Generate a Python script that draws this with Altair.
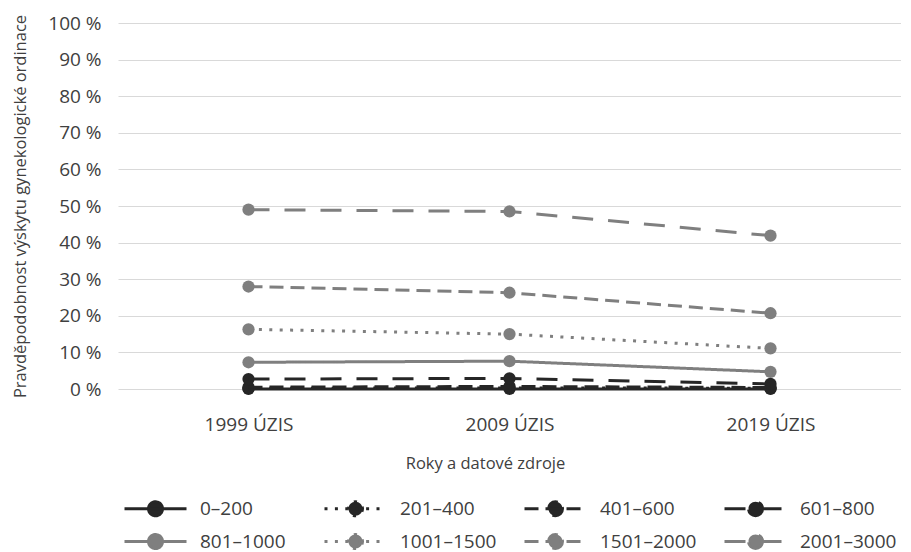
import altair as alt
import pandas as pd

years = ["1999 ÚZIS", "2009 ÚZIS", "2019 ÚZIS"]
categories = ["0–200", "201–400", "401–600", "601–800",
              "801–1000", "1001–1500", "1501–2000", "2001–3000"]

v_0_200 = [0.0, 0.0, 0.0]
v_201_400 = [0.2, 0.3, 0.2]
v_401_600 = [0.5, 0.7, 0.4]
v_601_800 = [2.7, 2.9, 1.4]
v_801_1000 = [7.3, 7.6, 4.7]
v_1001_1500 = [16.3, 15.0, 11.1]
v_1501_2000 = [28.0, 26.3, 20.7]
v_2001_3000 = [49.0, 48.5, 41.9]

series_values = [v_0_200, v_201_400, v_401_600, v_601_800,
                 v_801_1000, v_1001_1500, v_1501_2000, v_2001_3000]

colors = ["#262626"] * 4 + ["#7f7f7f"] * 4
dashes = [[1, 0], [3, 7.4], [14, 7], [21, 15]] * 2

rows = []
for cat, vals in zip(categories, series_values):
    for yr, v in zip(years, vals):
        rows.append({"year": yr, "series": cat, "value": v})
df = pd.DataFrame(rows)

FONT = "Open Sans"
TXT = "#404040"

# legend symbol: line with a circle, drawn in a unit space scaled by sqrt(size)/2
sym_path = ("M-1,0L6.75,0M3.75,0A0.875,0.875,0,1,1,2,0"
            "A0.875,0.875,0,1,1,3.75,0Z")

legend = alt.Legend(
    title=None, orient="none", legendX=5, legendY=476,
    direction="horizontal", columns=4, gridAlign="all",
    columnPadding=21, rowPadding=6,
    symbolType=sym_path, symbolSize=256, symbolStrokeWidth=3,
    labelOffset=58, labelFont=FONT, labelFontSize=19, labelColor=TXT,
    labelLimit=250,
)

base = alt.Chart(df).encode(
    x=alt.X("year:N", sort=years,
            scale=alt.Scale(type="point", padding=0.5),
            axis=alt.Axis(title="Roky a datové zdroje", labelAngle=0,
                          domain=False, ticks=False, grid=False,
                          labelPadding=26, titlePadding=21, titleX=367,
                          labelFontSize=19, titleFontSize=16.5)),
    y=alt.Y("value:Q", scale=alt.Scale(domain=[0, 100]),
            axis=alt.Axis(title="Pravděpodobnost výskytu gynekologické ordinace",
                          values=list(range(0, 101, 10)),
                          labelExpr="datum.value + ' %'",
                          domain=False, ticks=False, grid=True,
                          gridColor="#d9d9d9", gridWidth=1,
                          labelPadding=17, titlePadding=19,
                          labelFontSize=19, titleFontSize=16.5)),
    color=alt.Color("series:N", sort=categories,
                    scale=alt.Scale(domain=categories, range=colors),
                    legend=legend),
)

points = base.mark_point(filled=True, size=150, opacity=1)
lines = base.mark_line(strokeWidth=3).encode(
    strokeDash=alt.StrokeDash("series:N", sort=categories,
                              scale=alt.Scale(domain=categories, range=dashes),
                              legend=legend)
)

chart = alt.layer(points, lines).properties(
    width=783, height=366,
    padding={"left": 4, "top": 6, "right": 0, "bottom": 0},
).configure_view(stroke=None).configure_axis(
    labelFont=FONT, labelColor=TXT,
    titleFont=FONT, titleColor=TXT, titleFontWeight="normal",
)

chart.save("out.html", embed_options={"renderer": "svg", "actions": False})
